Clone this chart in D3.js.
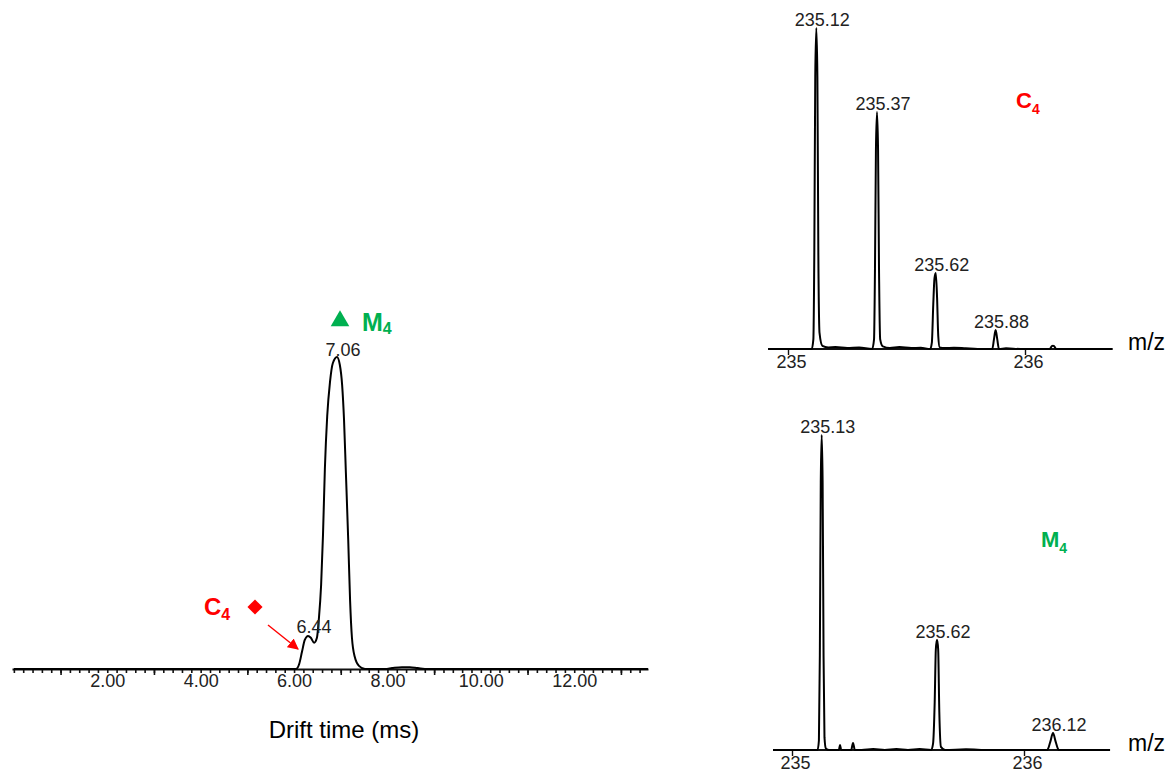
<!DOCTYPE html>
<html>
<head>
<meta charset="utf-8">
<script src="https://cdn.jsdelivr.net/npm/d3@7"></script>
<style>
  html, body { margin: 0; padding: 0; background: #fff; }
  svg { display: block; font-family: "Liberation Sans", Arial, sans-serif; }
</style>
</head>
<body>
<svg id="chart" width="1170" height="775"></svg>
<script>
// ---------------- DATA ----------------
// Drift-time chromatogram (ms, relative intensity)
const driftTime = [0, 6.04, 6.11, 6.17, 6.23, 6.30, 6.36, 6.43, 6.49, 6.53, 6.58, 6.62, 6.66, 6.71, 6.77, 6.83, 6.92, 6.98, 7.03, 7.07, 7.11, 7.16, 7.20, 7.24, 7.30, 7.39, 7.52, 7.95, 8.10, 8.31, 8.48, 8.65, 8.87, 13.58];
const driftIntensity = [0, 0, 1.6, 5.5, 9.3, 10.6, 10.0, 8.4, 10, 15.8, 27, 43, 64, 81, 92, 98, 100, 97.5, 91, 80, 63, 41.5, 22, 10, 3.9, 1, 0, 0, 0.3, 0.6, 0.6, 0.3, 0, 0];
const driftTickValues = [2, 4, 6, 8, 10, 12];
const driftTickLabels = ["2.00", "4.00", "6.00", "8.00", "10.00", "12.00"];
const driftPeakTimes = [6.30, 6.92];
const driftPeakLabels = ["6.44", "7.06"];

// Mass spectrum C4 (m/z, relative intensity)
const mzC4 = [234.917, 235.00, 235.05, 235.100, 235.107, 235.111, 235.115, 235.1195, 235.124, 235.128, 235.133, 235.145, 235.17, 235.20, 235.25, 235.30, 235.355, 235.363, 235.367, 235.371, 235.3755, 235.380, 235.384, 235.389, 235.40, 235.43, 235.47, 235.52, 235.56, 235.60, 235.607, 235.613, 235.618, 235.6235, 235.629, 235.634, 235.640, 235.66, 235.70, 235.75, 235.80, 235.862, 235.869, 235.876, 235.883, 235.890, 235.92, 235.98, 236.05, 236.105, 236.113, 236.118, 236.123, 236.131, 236.20, 236.37];
const intC4 = [0, 0, 0, 0, 3, 30, 85, 100, 85, 30, 5, 1, 0.5, 0.6, 0.3, 0.5, 0, 3, 25, 62, 73.8, 62, 25, 3, 0.8, 0.3, 0.6, 0.3, 0.4, 0, 2, 14, 22, 23.7, 16, 4, 0.5, 0.3, 0.4, 0.2, 0, 0, 3, 5.9, 3, 0, 0.2, 0, 0, 0, 0.9, 1.0, 0.9, 0, 0, 0];
const labelsC4 = ["235.12", "235.37", "235.62", "235.88"];
const labelMzC4 = [235.1195, 235.3755, 235.6235, 235.876];
const labelIntC4 = [100, 73.8, 23.7, 5.9];

// Mass spectrum M4 (m/z, relative intensity)
const mzM4 = [234.918, 235.00, 235.08, 235.110, 235.116, 235.120, 235.124, 235.128, 235.132, 235.136, 235.140, 235.146, 235.16, 235.19, 235.202, 235.207, 235.212, 235.24, 235.255, 235.263, 235.271, 235.30, 235.35, 235.40, 235.45, 235.50, 235.55, 235.60, 235.608, 235.615, 235.620, 235.625, 235.630, 235.635, 235.642, 235.66, 235.75, 235.85, 235.95, 236.05, 236.100, 236.113, 236.125, 236.137, 236.15, 236.25, 236.371];
const intM4 = [0, 0, 0, 0, 3, 30, 85, 100, 85, 30, 4, 0.5, 0, 0, 0, 1.6, 0, 0, 0, 2.2, 0, 0, 0.3, 0, 0.3, 0, 0.3, 0, 2, 15, 32, 35, 32, 12, 1, 0, 0.2, 0, 0, 0, 0, 2.5, 5.4, 2.5, 0, 0, 0];
const labelsM4 = ["235.13", "235.62", "236.12"];
const labelMzM4 = [235.128, 235.625, 236.125];
const labelIntM4 = [100, 35, 5.4];

const mzTickValues = [235, 236];

// ---------------- DRAW ----------------
const svg = d3.select("#chart");
const FONT = "'Liberation Sans', Arial, sans-serif";
const RED = "#ff0000", GREEN = "#00b050";

// ---- Left: drift time chromatogram ----
const xD = d3.scaleLinear().domain([-0.04, 13.58]).range([12, 648]);
const yD = d3.scaleLinear().domain([0, 100]).range([669, 357]);
const gD = svg.append("g");

// minor ticks
const minorVals = d3.range(0, 13.6, 0.2);
gD.append("g").attr("transform", "translate(0,669)")
  .call(d3.axisBottom(xD).tickValues(minorVals).tickSize(4).tickFormat(""))
  .call(g => g.select(".domain").remove())
  .call(g => g.selectAll("line").attr("stroke", "#111").attr("stroke-width", 1.6));
// taller ticks at odd values
gD.append("g").attr("transform", "translate(0,669)")
  .call(d3.axisBottom(xD).tickValues([1, 3, 5, 7, 9, 11, 13]).tickSize(6).tickFormat(""))
  .call(g => g.select(".domain").remove())
  .call(g => g.selectAll("line").attr("stroke", "#111").attr("stroke-width", 1.6));
// axis line + labels
gD.append("g").attr("transform", "translate(0,669)")
  .call(d3.axisBottom(xD).tickValues(driftTickValues).tickSize(0).tickPadding(3)
        .tickFormat((d, i) => driftTickLabels[i]))
  .call(g => g.select(".domain").attr("stroke", "#111").attr("stroke-width", 2.2))
  .call(g => g.selectAll("text").attr("font-family", FONT).attr("font-size", 18).attr("fill", "#222").attr("dy", "0.85em"));

const chromData = driftTime.map((t, i) => [t, driftIntensity[i]]);
gD.append("path").datum(chromData)
  .attr("fill", "none").attr("stroke", "#000").attr("stroke-width", 2)
  .attr("d", d3.line().x(d => xD(d[0])).y(d => yD(d[1])).curve(d3.curveMonotoneX));

// peak labels
const peakLabelGap = [3, 1];
driftPeakTimes.forEach((t, i) => {
  const idx = driftTime.indexOf(t);
  gD.append("text").attr("x", xD(t) + 6).attr("y", yD(driftIntensity[idx]) - peakLabelGap[i])
    .attr("text-anchor", "middle").attr("font-family", FONT).attr("font-size", 18).attr("fill", "#222")
    .text(driftPeakLabels[i]);
});

gD.append("text").attr("x", 344).attr("y", 738).attr("text-anchor", "middle")
  .attr("font-family", FONT).attr("font-size", 24).attr("fill", "#000").text("Drift time (ms)");

// annotations: M4 triangle
gD.append("path").attr("d", d3.symbol(d3.symbolTriangle, 150)())
  .attr("transform", "translate(340,321)").attr("fill", GREEN);
const m4L = gD.append("text").attr("x", 362).attr("y", 331).attr("font-family", FONT)
  .attr("font-weight", "bold").attr("font-size", 25).attr("fill", GREEN);
m4L.append("tspan").text("M");
m4L.append("tspan").attr("font-size", 16).attr("dy", 3).text("4");

// C4 diamond + arrow
const c4L = gD.append("text").attr("x", 204).attr("y", 615).attr("font-family", FONT)
  .attr("font-weight", "bold").attr("font-size", 24).attr("fill", RED);
c4L.append("tspan").text("C");
c4L.append("tspan").attr("font-size", 16).attr("dy", 5).text("4");
gD.append("path").attr("d", d3.symbol(d3.symbolSquare, 115)())
  .attr("transform", "translate(255,607) rotate(45)").attr("fill", RED);
svg.append("defs").append("marker").attr("id", "arrowRed")
  .attr("viewBox", "0 0 10 10").attr("refX", 9).attr("refY", 5)
  .attr("markerWidth", 11).attr("markerHeight", 11).attr("markerUnits", "userSpaceOnUse")
  .attr("orient", "auto")
  .append("path").attr("d", "M0,0 L10,5 L0,10 Z").attr("fill", RED);
gD.append("line").attr("x1", 268).attr("y1", 625).attr("x2", 298).attr("y2", 649)
  .attr("stroke", RED).attr("stroke-width", 1.5).attr("marker-end", "url(#arrowRed)");

// ---- Right: spectra ----
function drawSpectrum(mz, inten, x0, x1, yBase, yTop, tick235, tick236, labels, labMz, labInt, mzLabelY) {
  const x = d3.scaleLinear().domain([235, 236]).range([tick235, tick236]);
  const y = d3.scaleLinear().domain([0, 100]).range([yBase, yTop]);
  const g = svg.append("g");
  g.append("line").attr("x1", x0).attr("x2", x1).attr("y1", yBase).attr("y2", yBase)
    .attr("stroke", "#111").attr("stroke-width", 2);
  g.append("g").attr("transform", `translate(0,${yBase})`)
    .call(d3.axisBottom(x).tickValues(mzTickValues).tickSize(6).tickPadding(0).tickFormat(d3.format("d")))
    .call(g2 => g2.select(".domain").remove())
    .call(g2 => g2.selectAll("line").attr("stroke", "#111").attr("stroke-width", 1.4))
    .call(g2 => g2.selectAll("text").attr("font-family", FONT).attr("font-size", 18)
          .attr("fill", "#222").attr("dx", 3).attr("y", 19).attr("dy", 0));
  const data = mz.map((m, i) => [m, inten[i]]);
  g.append("path").datum(data).attr("fill", "none").attr("stroke", "#000").attr("stroke-width", 2)
    .attr("stroke-linejoin", "round")
    .attr("d", d3.line().x(d => x(d[0])).y(d => y(d[1])).curve(d3.curveMonotoneX));
  labels.forEach((l, i) => {
    g.append("text").attr("x", x(labMz[i]) + 6).attr("y", y(labInt[i]) - 2)
      .attr("text-anchor", "middle").attr("font-family", FONT).attr("font-size", 18).attr("fill", "#222")
      .text(l);
  });
  g.append("text").attr("x", 1128).attr("y", mzLabelY).attr("font-family", FONT)
    .attr("font-size", 23).attr("fill", "#000").text("m/z");
}

drawSpectrum(mzC4, intC4, 768, 1112, 349, 28, 788, 1025, labelsC4, labelMzC4, labelIntC4, 350);
drawSpectrum(mzM4, intM4, 773, 1110, 750, 435, 792, 1024, labelsM4, labelMzM4, labelIntM4, 751);

// right annotations
const c4R = svg.append("text").attr("x", 1016).attr("y", 108).attr("font-family", FONT)
  .attr("font-weight", "bold").attr("font-size", 22).attr("fill", RED);
c4R.append("tspan").text("C");
c4R.append("tspan").attr("font-size", 14).attr("dy", 6).text("4");
const m4R = svg.append("text").attr("x", 1041).attr("y", 547).attr("font-family", FONT)
  .attr("font-weight", "bold").attr("font-size", 22).attr("fill", GREEN);
m4R.append("tspan").text("M");
m4R.append("tspan").attr("font-size", 14).attr("dy", 6).text("4");
</script>
</body>
</html>
